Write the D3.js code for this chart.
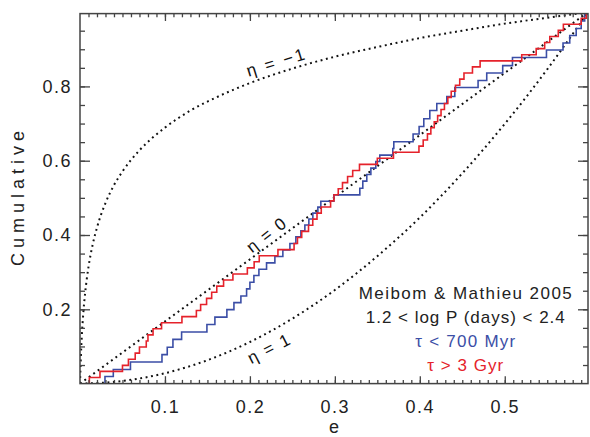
<!DOCTYPE html>
<html><head><meta charset="utf-8">
<script src="https://cdn.jsdelivr.net/npm/d3@7"></script>
<style>
html,body{margin:0;padding:0;background:#fff;}
svg{display:block;font-family:"Liberation Sans",Arial,sans-serif;}
</style></head>
<body><svg id="c" width="590" height="437"></svg>
<script>
// ---- data ----
const xMajorTicks = [0.1, 0.2, 0.3, 0.4, 0.5];
const yMajorTicks = [0.2, 0.4, 0.6, 0.8];
const xLabel = "e";
const yLabel = "Cumulative";

// tau > 3 Gyr : sorted eccentricities (ECDF)
const redE = [0.011,0.0235,0.050,0.057,0.065,0.070,0.078,0.080,0.086,0.096,
  0.120,0.137,0.142,0.149,0.155,0.161,0.169,0.180,0.197,0.205,
  0.211,0.233,0.252,0.256,0.261,0.269,0.274,0.279,0.284,0.295,
  0.299,0.304,0.309,0.315,0.321,0.329,0.350,0.369,0.399,0.404,
  0.409,0.413,0.417,0.421,0.425,0.429,0.433,0.437,0.442,0.447,
  0.452,0.462,0.471,0.520,0.537,0.547,0.553,0.563,0.569,0.590,0.596];

// tau < 700 Myr : step positions and cumulative level after each step
const blueE = [0.0294,0.0392,0.0594,0.0965,0.1027,0.1094,0.1196,0.1494,0.1588,0.1729,
  0.1812,0.1894,0.1961,0.2000,0.2047,0.2106,0.2196,0.2294,0.2388,0.2471,
  0.2541,0.2600,0.2647,0.2694,0.2741,0.2800,0.2835,0.2988,0.3294,0.3329,
  0.3376,0.3424,0.3482,0.3529,0.3682,0.3694,0.3921,0.3992,0.4047,0.4118,
  0.4200,0.4318,0.4412,0.4686,0.4788,0.4976,0.5091,0.5491,0.5686,0.5765,
  0.5841,0.5900,0.5941,0.5976];
const blueF = [0.019,0.038,0.058,0.078,0.098,0.119,0.139,0.159,0.179,0.199,
  0.218,0.236,0.255,0.273,0.291,0.308,0.325,0.342,0.360,0.377,
  0.395,0.411,0.427,0.443,0.459,0.475,0.491,0.508,0.526,0.545,
  0.563,0.580,0.598,0.615,0.633,0.651,0.672,0.692,0.713,0.735,
  0.754,0.773,0.797,0.816,0.836,0.856,0.878,0.898,0.917,0.937,
  0.956,0.976,0.995,1.000];

// model curves (eta = -1, 0, 1)
const etaM1E = [0,0.001,0.002,0.004,0.006,0.008,0.01,0.015,0.02,0.03,0.04,0.05,0.07,0.1,0.13,0.16,0.2,0.25,0.3,0.35,0.4,0.45,0.5,0.55,0.598];
const etaM1F = [0,0.071,0.122,0.193,0.243,0.282,0.314,0.375,0.420,0.486,0.534,0.571,0.628,0.689,0.735,0.770,0.809,0.848,0.880,0.906,0.930,0.950,0.969,0.985,1.0];
const eta0E = [0,0.598];
const eta0F = [0,1.0];
const eta1E = [0,0.05,0.1,0.15,0.2,0.25,0.3,0.35,0.4,0.45,0.5,0.55,0.598];
const eta1F = [0,0.007,0.028,0.063,0.112,0.175,0.252,0.343,0.447,0.566,0.699,0.846,1.0];

const etaLabels = ["\u03b7 = \u22121", "\u03b7 = 0", "\u03b7 = 1"];
const legendLines = ["Meibom & Mathieu 2005", "1.2 < log P (days) < 2.4", "\u03c4 < 700 Myr", "\u03c4 > 3 Gyr"];

// ---- layout ----
const W = 590, H = 437;
const L = 80, R = 588, T = 13.6, B = 383.6;
const x = d3.scaleLinear().domain([0, 0.598]).range([L, R]);
const y = d3.scaleLinear().domain([0, 0.996]).range([B, T]);
const svg = d3.select("#c");
const axisCol = "#444", textCol = "#222";
const red = "#e5222b", blue = "#3b4ea6";

svg.append("defs").append("clipPath").attr("id","pc")
  .append("rect").attr("x",L).attr("y",T).attr("width",R-L).attr("height",B-T);

// model curves
const g = svg.append("g").attr("clip-path","url(#pc)");
const mline = d3.line().x(d=>x(d[0])).y(d=>y(d[1])).curve(d3.curveMonotoneX);
[[etaM1E,etaM1F],[eta0E,eta0F],[eta1E,eta1F]].forEach(([E,F])=>{
  g.append("path").datum(E.map((e,i)=>[e,F[i]]))
   .attr("d", mline).attr("fill","none").attr("stroke","#111")
   .attr("stroke-width",2).attr("stroke-dasharray","1.9 3.6");
});

// ECDF step lines
const step = d3.line().x(d=>x(d[0])).y(d=>y(d[1])).curve(d3.curveStepAfter);
const blueData = [[blueE[0],0]].concat(blueE.map((e,i)=>[e,blueF[i]]));
const redData = [[redE[0],0]].concat(redE.map((e,i)=>[e,(i+1)/redE.length]));
g.append("path").datum(blueData).attr("d",step).attr("fill","none")
  .attr("stroke",blue).attr("stroke-width",1.6);
g.append("path").datum(redData).attr("d",step).attr("fill","none")
  .attr("stroke",red).attr("stroke-width",1.6);

// axes
function styleAxis(sel){
  sel.selectAll(".domain").remove();
  sel.selectAll("line").attr("stroke",axisCol).attr("stroke-width",1.3);
  sel.selectAll("text").attr("fill",textCol).attr("font-size",18)
     .attr("font-family","Liberation Sans, Arial, sans-serif").attr("letter-spacing","1.5px");
}
const xMinor = d3.range(1,60).map(i=>i/100).filter(v=>v<0.598);
const yMinor = d3.range(1,20).map(i=>i/20);
// bottom
svg.append("g").attr("transform",`translate(0,${B})`)
  .call(d3.axisBottom(x).tickValues(xMinor).tickSize(-3.7).tickFormat(""))
  .call(styleAxis);
svg.append("g").attr("transform",`translate(0,${B})`)
  .call(d3.axisBottom(x).tickValues(xMajorTicks).tickSize(-7.4).tickPadding(17).tickFormat(d3.format(".1f")))
  .call(styleAxis);
// top
svg.append("g").attr("transform",`translate(0,${T})`)
  .call(d3.axisTop(x).tickValues(xMinor).tickSize(-3.7).tickFormat("")).call(styleAxis);
svg.append("g").attr("transform",`translate(0,${T})`)
  .call(d3.axisTop(x).tickValues(xMajorTicks).tickSize(-7.4).tickFormat("")).call(styleAxis);
// left
svg.append("g").attr("transform",`translate(${L},0)`)
  .call(d3.axisLeft(y).tickValues(yMinor).tickSize(-5).tickFormat("")).call(styleAxis);
svg.append("g").attr("transform",`translate(${L},0)`)
  .call(d3.axisLeft(y).tickValues(yMajorTicks).tickSize(-10).tickPadding(8).tickFormat(d3.format(".1f")))
  .call(styleAxis);
// right
svg.append("g").attr("transform",`translate(${R},0)`)
  .call(d3.axisRight(y).tickValues(yMinor).tickSize(-5).tickFormat("")).call(styleAxis);
svg.append("g").attr("transform",`translate(${R},0)`)
  .call(d3.axisRight(y).tickValues(yMajorTicks).tickSize(-10).tickFormat("")).call(styleAxis);
// frame
svg.append("rect").attr("x",L).attr("y",T).attr("width",R-L).attr("height",B-T)
  .attr("fill","none").attr("stroke",axisCol).attr("stroke-width",1.5);

// axis titles
svg.append("text").attr("x",(L+R)/2).attr("y",433).attr("text-anchor","middle")
  .attr("font-size",18).attr("fill",textCol).text(xLabel);
svg.append("text").attr("transform",`translate(24,${(T+B)/2}) rotate(-90)`)
  .attr("text-anchor","middle").attr("font-size",18).attr("fill",textCol)
  .attr("textLength",135).attr("lengthAdjust","spacing").text(yLabel);

// eta labels
const etaPos = [[0.230,0.865,-17,60],[0.219,0.400,-38,45],[0.222,0.094,-27,45]];
etaLabels.forEach((t,i)=>{
  const [ex,ey,a,len] = etaPos[i];
  svg.append("text").attr("transform",`translate(${x(ex)},${y(ey)}) rotate(${a})`)
    .attr("text-anchor","middle").attr("dy","0.35em").attr("font-size",17)
    .attr("fill","#111").attr("textLength",len).attr("lengthAdjust","spacing").text(t);
});

// legend text
const legY = [0.228,0.162,0.098,0.034];
const legW = [213,199,100,76];
const legC = [textCol,textCol,blue,red];
legendLines.forEach((t,i)=>{
  svg.append("text").attr("x",x(0.4535)).attr("y",y(legY[i])).attr("text-anchor","middle")
    .attr("font-size",17).attr("fill",legC[i]).attr("textLength",legW[i])
    .attr("lengthAdjust","spacing").text(t);
});
</script></body></html>
